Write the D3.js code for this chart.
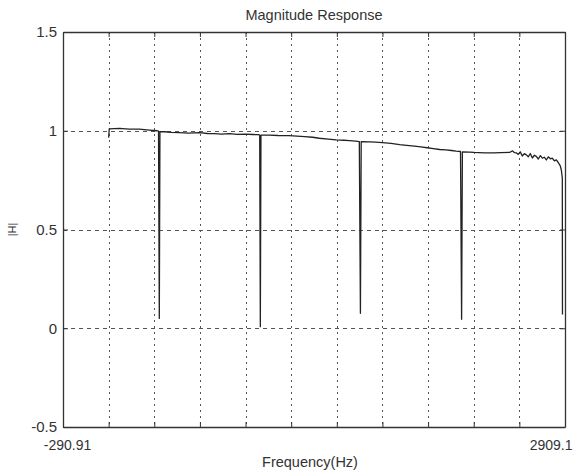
<!DOCTYPE html>
<html>
<head>
<meta charset="utf-8">
<script src="https://cdn.jsdelivr.net/npm/d3@7"></script>
<style>
  html, body { margin: 0; padding: 0; background: #fff; }
  svg { display: block; }
  text { font-family: "Liberation Sans", Arial, sans-serif; fill: #333; }
</style>
</head>
<body>
<svg id="chart" width="573" height="473"></svg>
<script>
// Magnitude response of the filter |H(f)|, frequency in Hz
const freqHz = [
  0, 4, 70, 130, 195, 260, 310, 318, 323, 327, 355, 400, 450, 510, 580, 630, 675, 720, 770, 820, 870, 920,
  955, 963, 967, 971, 1025, 1080, 1150, 1200, 1250, 1300, 1343, 1400, 1450, 1500, 1535, 1575,
  1598, 1605, 1610, 1665, 1700, 1745, 1800, 1855, 1900, 1950, 1990, 2030, 2070, 2110, 2150, 2185, 2215,
  2243, 2250, 2255, 2300, 2330, 2360, 2400, 2455, 2500, 2555, 2575, 2587,
  2599, 2611, 2624, 2637, 2650, 2663, 2675, 2688, 2701, 2714, 2726, 2739, 2752, 2765, 2777,
  2790, 2803, 2816, 2828, 2841, 2854, 2867, 2879, 2886, 2892, 2893
];
const magnitude = [
  0.965, 1.010, 1.012, 1.008, 1.008, 1.003, 1.000, 0.998, 0.050, 0.996, 0.995, 0.992, 0.990, 0.988, 0.990, 0.986, 0.985, 0.983, 0.985, 0.982, 0.983, 0.981,
  0.980, 0.978, 0.008, 0.978, 0.978, 0.976, 0.975, 0.973, 0.970, 0.967, 0.962, 0.958, 0.954, 0.952, 0.950, 0.947,
  0.945, 0.076, 0.945, 0.944, 0.942, 0.940, 0.936, 0.930, 0.926, 0.922, 0.918, 0.914, 0.910, 0.905, 0.903, 0.900, 0.897,
  0.895, 0.045, 0.893, 0.892, 0.890, 0.889, 0.888, 0.888, 0.889, 0.890, 0.898, 0.889,
  0.888, 0.880, 0.893, 0.872, 0.884, 0.878, 0.868, 0.885, 0.862, 0.876, 0.870, 0.857, 0.874, 0.861, 0.866,
  0.852, 0.868, 0.858, 0.861, 0.848, 0.852, 0.838, 0.822, 0.800, 0.760, 0.070
];

const xDomain = [-290.91, 2909.1];
const xTickValues = [-290.91, 0, 290.91, 581.82, 872.73, 1163.64, 1454.55, 1745.45, 2036.36, 2327.27, 2618.18, 2909.1];
const xTickLabels = ["-290.91", "", "", "", "", "", "", "", "", "", "", "2909.1"];
const yDomain = [-0.5, 1.5];
const yTickValues = [-0.5, 0, 0.5, 1, 1.5];
const yTickLabels = ["-0.5", "0", "0.5", "1", "1.5"];

const margin = { left: 63, right: 8, top: 32, bottom: 46 };
const W = 573, H = 473;
const svg = d3.select("#chart");

const x = d3.scaleLinear().domain(xDomain).range([margin.left, W - margin.right]);
const y = d3.scaleLinear().domain(yDomain).range([H - margin.bottom, margin.top]);

const x0 = x.range()[0], x1 = x.range()[1];
const y0 = y.range()[1], y1 = y.range()[0];

// grid
const grid = svg.append("g").attr("stroke", "#555").attr("stroke-width", 1).attr("fill", "none");
grid.selectAll("line.vg")
  .data(xTickValues.slice(1, -1))
  .join("line")
  .attr("x1", d => Math.round(x(d)) + 0.5).attr("x2", d => Math.round(x(d)) + 0.5)
  .attr("y1", y0).attr("y2", y1)
  .attr("stroke-dasharray", "2,4");
grid.selectAll("line.hg")
  .data(yTickValues.slice(1, -1))
  .join("line")
  .attr("y1", d => Math.round(y(d)) + 0.5).attr("y2", d => Math.round(y(d)) + 0.5)
  .attr("x1", x0).attr("x2", x1)
  .attr("stroke-dasharray", "4,4");

// response curve
const pts = freqHz.map((f, i) => [f, magnitude[i]]);
svg.append("path")
  .datum(pts)
  .attr("fill", "none")
  .attr("stroke", "#222")
  .attr("stroke-width", 1.3)
  .attr("stroke-linejoin", "round")
  .attr("d", d3.line().x(d => x(d[0])).y(d => y(d[1])));

// axes (inward ticks on all sides)
const fmtX = (d) => xTickLabels[xTickValues.indexOf(d)];
const fmtY = (d) => yTickLabels[yTickValues.indexOf(d)];

const axB = svg.append("g").attr("transform", `translate(0,${y1})`)
  .call(d3.axisBottom(x).tickValues(xTickValues).tickFormat(fmtX).tickSizeInner(-5).tickSizeOuter(0).tickPadding(13));
const axT = svg.append("g").attr("transform", `translate(0,${y0})`)
  .call(d3.axisTop(x).tickValues(xTickValues).tickFormat("").tickSizeInner(-5).tickSizeOuter(0));
const axL = svg.append("g").attr("transform", `translate(${x0},0)`)
  .call(d3.axisLeft(y).tickValues(yTickValues).tickFormat(fmtY).tickSizeInner(-5).tickSizeOuter(0).tickPadding(6));
const axR = svg.append("g").attr("transform", `translate(${x1},0)`)
  .call(d3.axisRight(y).tickValues(yTickValues).tickFormat("").tickSizeInner(-5).tickSizeOuter(0));

[axB, axT, axL, axR].forEach(g => {
  g.select(".domain").attr("stroke", "#333").attr("stroke-width", 1.3);
  g.selectAll(".tick line").attr("stroke", "#333");
  g.selectAll("text").attr("font-family", "Liberation Sans, Arial, sans-serif").attr("fill", "#333");
});
axB.selectAll("text").attr("font-size", 14);
axL.selectAll("text").attr("font-size", 15);
const bl = axB.selectAll(".tick text").nodes();
d3.select(bl[0]).attr("dx", 4);
d3.select(bl[bl.length - 1]).attr("text-anchor", "end").attr("dx", 7);

// titles
svg.append("text").attr("x", (x0 + x1) / 2).attr("y", 20)
  .attr("text-anchor", "middle").attr("font-size", 14.5).text("Magnitude Response");
svg.append("text").attr("x", 310).attr("y", 467)
  .attr("text-anchor", "middle").attr("font-size", 14.5).text("Frequency(Hz)");
svg.append("text").attr("transform", `translate(16,${(y0 + y1) / 2}) rotate(-90)`)
  .attr("text-anchor", "middle").attr("font-size", 11).text("|H|");
</script>
</body>
</html>
